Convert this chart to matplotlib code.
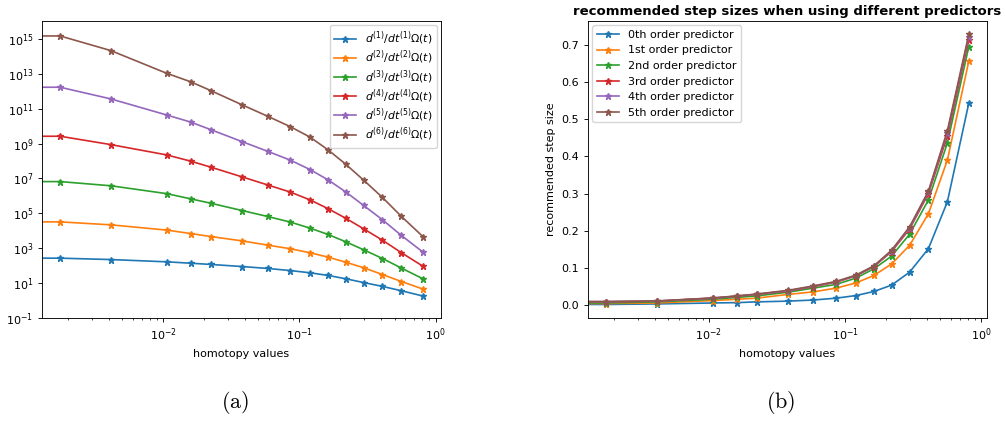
import matplotlib
matplotlib.use("Agg")
import matplotlib.pyplot as plt
import numpy as np

plt.rcParams['mathtext.fontset'] = 'dejavusans'

# homotopy values (first one is t = 0, clipped on the log axis)
homotopy = [0.0, 0.00176, 0.00415, 0.01064, 0.0160, 0.0224, 0.0381, 0.0585,
            0.0859, 0.120, 0.1626, 0.219, 0.297, 0.408, 0.562, 0.807]

# log10 of the derivative norms, one list per order
deriv_log = [
    [2.43, 2.43, 2.35, 2.22, 2.14, 2.07, 1.95, 1.84, 1.72, 1.59, 1.44, 1.25, 1.03, 0.81, 0.56, 0.26],
    [4.51, 4.51, 4.34, 4.04, 3.84, 3.67, 3.42, 3.18, 2.97, 2.74, 2.49, 2.20, 1.88, 1.49, 1.09, 0.66],
    [6.82, 6.82, 6.58, 6.13, 5.83, 5.58, 5.16, 4.82, 4.50, 4.15, 3.79, 3.37, 2.91, 2.41, 1.86, 1.25],
    [9.42, 9.42, 8.94, 8.35, 7.99, 7.65, 7.09, 6.63, 6.22, 5.77, 5.27, 4.72, 4.11, 3.46, 2.74, 1.97],
    [12.23, 12.23, 11.56, 10.64, 10.23, 9.80, 9.11, 8.56, 8.05, 7.51, 6.92, 6.23, 5.45, 4.63, 3.73, 2.78],
    [15.17, 15.17, 14.33, 13.03, 12.54, 12.04, 11.22, 10.57, 9.97, 9.37, 8.64, 7.82, 6.90, 5.91, 4.82, 3.67],
]
deriv_labels = [r'$d^{(%d)}/dt^{(%d)}\Omega(t)$' % (k, k) for k in range(1, 7)]

# recommended step sizes per predictor order
step_sizes = [
    [0.002, 0.002, 0.0035, 0.006, 0.007, 0.009, 0.011, 0.014, 0.019, 0.026, 0.037, 0.054, 0.089, 0.152, 0.278, 0.543],
    [0.0045, 0.0045, 0.006, 0.0125, 0.016, 0.019, 0.029, 0.036, 0.046, 0.060, 0.080, 0.111, 0.161, 0.246, 0.390, 0.656],
    [0.006, 0.006, 0.009, 0.016, 0.021, 0.025, 0.035, 0.046, 0.056, 0.073, 0.098, 0.132, 0.191, 0.283, 0.436, 0.695],
    [0.009, 0.009, 0.011, 0.019, 0.024, 0.029, 0.038, 0.050, 0.062, 0.079, 0.104, 0.144, 0.205, 0.300, 0.455, 0.714],
    [0.0095, 0.0095, 0.011, 0.019, 0.0245, 0.0295, 0.039, 0.051, 0.063, 0.080, 0.105, 0.146, 0.208, 0.304, 0.463, 0.722],
    [0.010, 0.010, 0.0115, 0.0195, 0.025, 0.030, 0.040, 0.052, 0.064, 0.081, 0.106, 0.148, 0.211, 0.307, 0.469, 0.728],
]
step_labels = ['0th order predictor', '1st order predictor', '2nd order predictor',
               '3rd order predictor', '4th order predictor', '5th order predictor']

fs = 8.0
fig = plt.figure(figsize=(10.05, 4.21), dpi=100)

ax1 = fig.add_axes([0.0418, 0.2447, 0.397, 0.7055])
for vals, lab in zip(deriv_log, deriv_labels):
    ax1.plot(homotopy, 10.0 ** np.array(vals), '*-', label=lab, lw=1.2, ms=4.8)
ax1.set_xscale('log')
ax1.set_yscale('log')
ax1.set_ylim(1e-1, 10 ** 16.03)
ax1.set_xlabel('homotopy values', fontsize=fs)
ax1.tick_params(labelsize=fs, width=0.64, length=2.8)
ax1.tick_params(which='minor', width=0.5, length=1.6)
ax1.legend(loc='upper right', fontsize=7.8, labelspacing=0.15, borderaxespad=0.4)
for s in ax1.spines.values():
    s.set_linewidth(0.64)

ax2 = fig.add_axes([0.585, 0.2447, 0.397, 0.7055])
for vals, lab in zip(step_sizes, step_labels):
    ax2.plot(homotopy, vals, '*-', label=lab, lw=1.2, ms=4.8)
ax2.set_xscale('log')
ax2.set_xlabel('homotopy values', fontsize=fs)
ax2.set_ylabel('recommended step size', fontsize=fs)
ax2.set_title('recommended step sizes when using different predictors',
              fontsize=9.5, fontweight='bold', pad=4)
ax2.tick_params(labelsize=fs, width=0.64, length=2.8)
ax2.tick_params(which='minor', width=0.5, length=1.6)
ax2.legend(loc='upper left', fontsize=fs, borderaxespad=0.4)
for s in ax2.spines.values():
    s.set_linewidth(0.64)

fig.text(0.234, 0.043, r'$\mathrm{(a)}$', fontsize=16, ha='center', va='center',
         math_fontfamily='cm')
fig.text(0.777, 0.043, r'$\mathrm{(b)}$', fontsize=16, ha='center', va='center',
         math_fontfamily='cm')

fig.savefig('out.png', dpi=100)
